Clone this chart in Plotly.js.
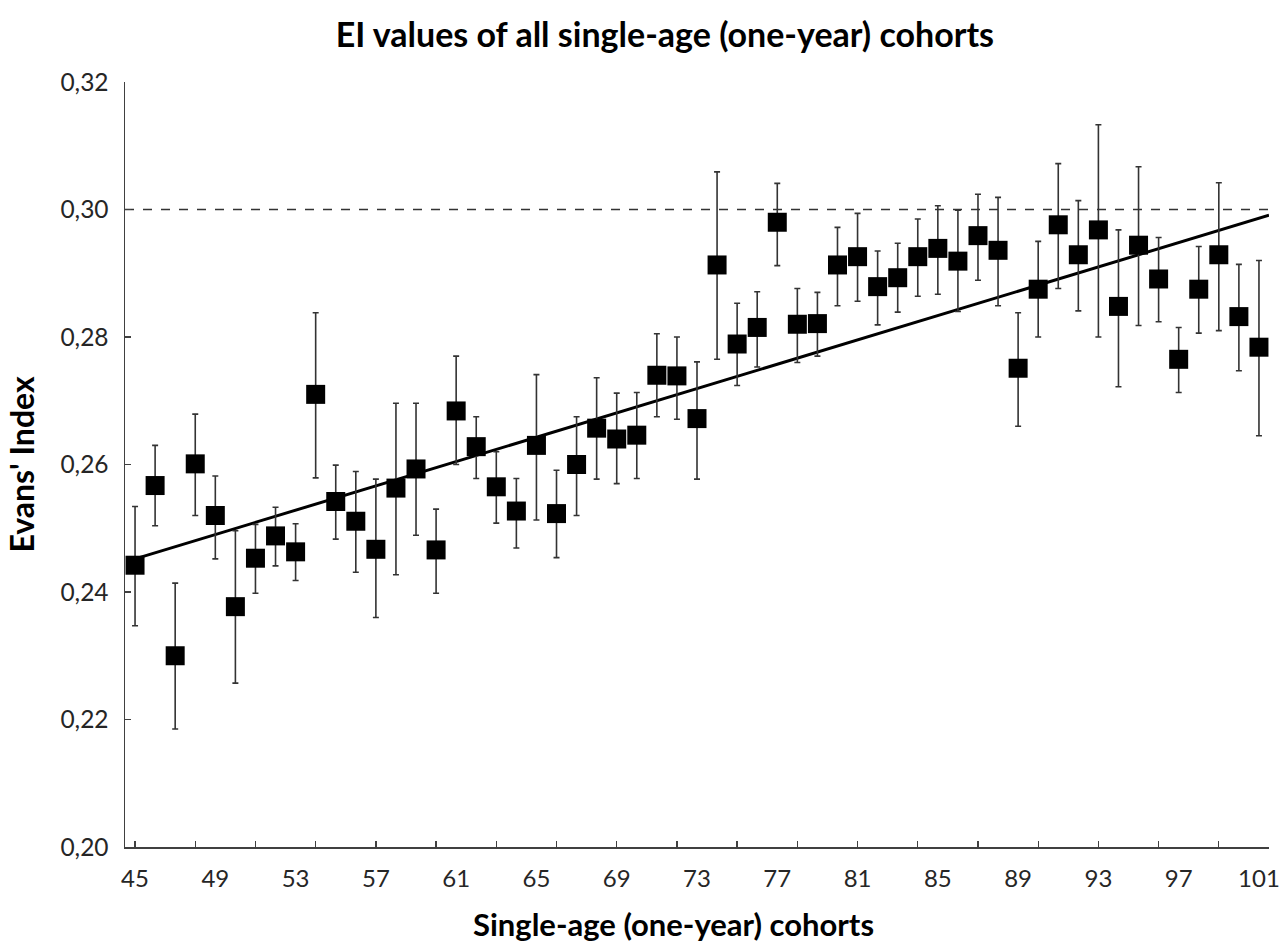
<!DOCTYPE html>
<html>
<head>
<meta charset="utf-8">
<script src="https://cdn.plot.ly/plotly-3.0.1.min.js"></script>
<style>html,body{margin:0;padding:0;background:#fff;}#chart{width:1281px;height:948px;}</style>
</head>
<body>
<div id="chart"></div>
<script>
const ages = [45,46,47,48,49,50,51,52,53,54,55,56,57,58,59,60,61,62,63,64,65,66,67,68,69,70,71,72,73,74,75,76,77,78,79,80,81,82,83,84,85,86,87,88,89,90,91,92,93,94,95,96,97,98,99,100,101];
const eiValues = [0.2442,0.2567,0.2300,0.2601,0.2520,0.2377,0.2453,0.2488,0.2463,0.2710,
  0.2542,0.2511,0.2467,0.2563,0.2593,0.2466,0.2684,0.2628,0.2565,0.2527,
  0.2630,0.2523,0.2600,0.2657,0.2640,0.2646,0.2740,0.2739,0.2672,0.2913,
  0.2789,0.2815,0.2980,0.2820,0.2821,0.2913,0.2926,0.2879,0.2893,0.2926,
  0.2939,0.2919,0.2959,0.2936,0.2751,0.2875,0.2976,0.2929,0.2968,0.2848,
  0.2944,0.2891,0.2765,0.2875,0.2929,0.2832,0.2784];
const upperBound = [0.2534,0.2630,0.2414,0.2679,0.2582,0.2496,0.2506,0.2533,0.2507,0.2838,
  0.2599,0.2589,0.2577,0.2696,0.2696,0.2530,0.2770,0.2675,0.2620,0.2578,
  0.2741,0.2591,0.2675,0.2736,0.2712,0.2713,0.2805,0.2800,0.2761,0.3059,
  0.2853,0.2871,0.3041,0.2876,0.2870,0.2972,0.2994,0.2935,0.2947,0.2985,
  0.3006,0.2999,0.3024,0.3019,0.2838,0.2950,0.3072,0.3014,0.3133,0.2968,
  0.3067,0.2956,0.2815,0.2942,0.3042,0.2914,0.2920];
const lowerBound = [0.2347,0.2504,0.2185,0.2520,0.2452,0.2257,0.2398,0.2441,0.2418,0.2579,
  0.2483,0.2431,0.2360,0.2427,0.2489,0.2398,0.2600,0.2578,0.2508,0.2469,
  0.2513,0.2454,0.2520,0.2577,0.2570,0.2578,0.2675,0.2671,0.2577,0.2765,
  0.2724,0.2753,0.2912,0.2760,0.2770,0.2849,0.2856,0.2819,0.2839,0.2864,
  0.2867,0.2840,0.2889,0.2849,0.2660,0.2800,0.2876,0.2841,0.2800,0.2722,
  0.2818,0.2824,0.2713,0.2806,0.2810,0.2747,0.2645];
const trendX = [45, 101.5];
const trendY = [0.2452, 0.2991];
const refLineY = 0.30;
const yTickVals = [0.20,0.22,0.24,0.26,0.28,0.30,0.32];
const yTickText = ['0,20','0,22','0,24','0,26','0,28','0,30','0,32'];
const xLabelVals = [45,49,53,57,61,65,69,73,77,81,85,89,93,97,101];

const errPlus = eiValues.map((v,i)=>upperBound[i]-v);
const errMinus = eiValues.map((v,i)=>v-lowerBound[i]);

const FONT = 'Lato, "Open Sans", sans-serif';
const axisColor = '#404040';

const traces = [
  {
    x: trendX, y: trendY, type: 'scatter', mode: 'lines',
    line: {color: '#000', width: 3}, hoverinfo: 'skip', showlegend: false
  },
  {
    x: ages, y: eiValues, type: 'scatter', mode: 'markers',
    marker: {symbol: 'square', size: 19, color: '#000', line: {width: 0}},
    error_y: {type: 'data', symmetric: false, array: errPlus, arrayminus: errMinus,
      color: '#333', thickness: 1.6, width: 3},
    showlegend: false
  },
  {
    x: trendX, y: [refLineY, refLineY], xaxis: 'x2', type: 'scatter', mode: 'lines',
    line: {color: 'rgba(0,0,0,0)', width: 0}, hoverinfo: 'skip', showlegend: false
  }
];

const layout = {
  width: 1281, height: 948,
  margin: {l: 125, r: 12, t: 82, b: 101},
  paper_bgcolor: '#fff', plot_bgcolor: '#fff',
  font: {family: FONT, color: '#262626'},
  title: {text: 'EI values of all single-age (one-year) cohorts',
    font: {family: FONT, size: 34, color: '#000', weight: 'bold'},
    x: 0.519, xanchor: 'center', y: 0.963, yanchor: 'middle'},
  xaxis: {
    range: [44.5, 101.5], tickmode: 'array', tickvals: xLabelVals,
    ticks: '', showgrid: false, zeroline: false,
    showline: true, linecolor: axisColor, linewidth: 1.5,
    tickfont: {family: FONT, size: 24, color: '#262626'},
    ticklabelstandoff: 10
  },
  xaxis2: {
    overlaying: 'x', anchor: 'y', side: 'bottom',
    range: [44.5, 101.5], tickmode: 'linear', tick0: 45, dtick: 3,
    ticks: 'inside', ticklen: 6, tickwidth: 1.3, tickcolor: axisColor,
    showticklabels: false, showgrid: false, zeroline: false, showline: false
  },
  yaxis: {
    range: [0.20, 0.32], tickmode: 'array', tickvals: yTickVals, ticktext: yTickText,
    ticks: 'inside', ticklen: 6, tickwidth: 1.3, tickcolor: axisColor,
    showgrid: false, zeroline: false,
    showline: true, linecolor: axisColor, linewidth: 1.5,
    tickfont: {family: FONT, size: 24.5, color: '#262626'},
    ticklabelstandoff: 10,
    title: {text: "Evans' Index", standoff: 16,
      font: {family: FONT, size: 32, color: '#000', weight: 'bold'}}
  },
  annotations: [{
    text: 'Single-age (one-year) cohorts', xref: 'paper', yref: 'paper',
    x: 0.4795, y: -0.1, xanchor: 'center', yanchor: 'middle', showarrow: false,
    font: {family: FONT, size: 31, color: '#000', weight: 'bold'}
  }],
  shapes: [{
    type: 'line', xref: 'x', yref: 'y', x0: 44.5, x1: 101.5, y0: refLineY, y1: refLineY,
    line: {color: '#333', width: 1.3, dash: 'dash'}, layer: 'below'
  }]
};

Plotly.newPlot('chart', traces, layout, {staticPlot: true, displayModeBar: false});
</script>
</body>
</html>
